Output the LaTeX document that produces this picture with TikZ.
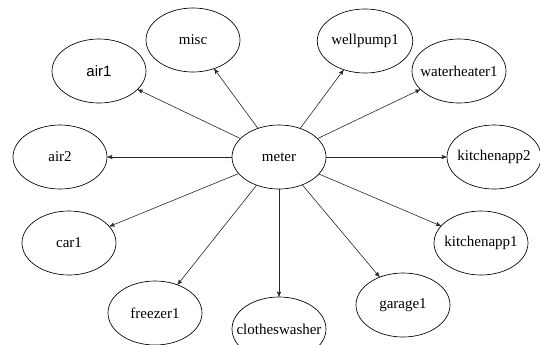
\documentclass[tikz,border=0pt]{standalone}
\usepackage{fontspec}
\setmainfont{Liberation Serif}
\setsansfont{Liberation Sans}
\usetikzlibrary{arrows,shapes.geometric}

\begin{document}
\begin{tikzpicture}
  [
    x=0.75pt, y=-0.75pt,
    load/.style={ellipse, draw, line width=0.5pt, minimum width=70.5pt,
      minimum height=48pt, inner sep=0pt, font=\fontsize{11.25}{13}\selectfont},
    feed/.style={->, >=stealth', line width=0.45pt, black!85}
  ]
  \useasboundingbox (0, 0) rectangle (540, 344);

  \node[load] (meter) at (279, 157) {meter};

  \node[load] (misc) at (193, 40) {misc};
  \node[load, font=\fontsize{11.25}{13}\sffamily] (air1) at (99, 71) {air1};
  \node[load] (air2) at (60, 157) {air2};
  \node[load] (car1) at (69, 243) {car1};
  \node[load] (freezer1) at (155, 313) {freezer1};
  \node[load] (clotheswasher) at (279, 329) {\makebox[0pt]{clotheswasher}};
  \node[load] (garage1) at (403, 305) {garage1};
  \node[load] (kitchenapp1) at (481, 243) {\makebox[0pt]{kitchenapp1}};
  \node[load] (kitchenapp2) at (494, 157) {\makebox[0pt]{kitchenapp2}};
  \node[load] (waterheater1) at (459, 71) {\makebox[0pt]{waterheater1}};
  \node[load] (wellpump1) at (365, 41) {wellpump1};

  \foreach \target in {misc, air1, air2, car1, freezer1, clotheswasher,
    garage1, kitchenapp1, kitchenapp2, waterheater1, wellpump1}
    \draw[feed] (meter) -- (\target);

\end{tikzpicture}
\end{document}
